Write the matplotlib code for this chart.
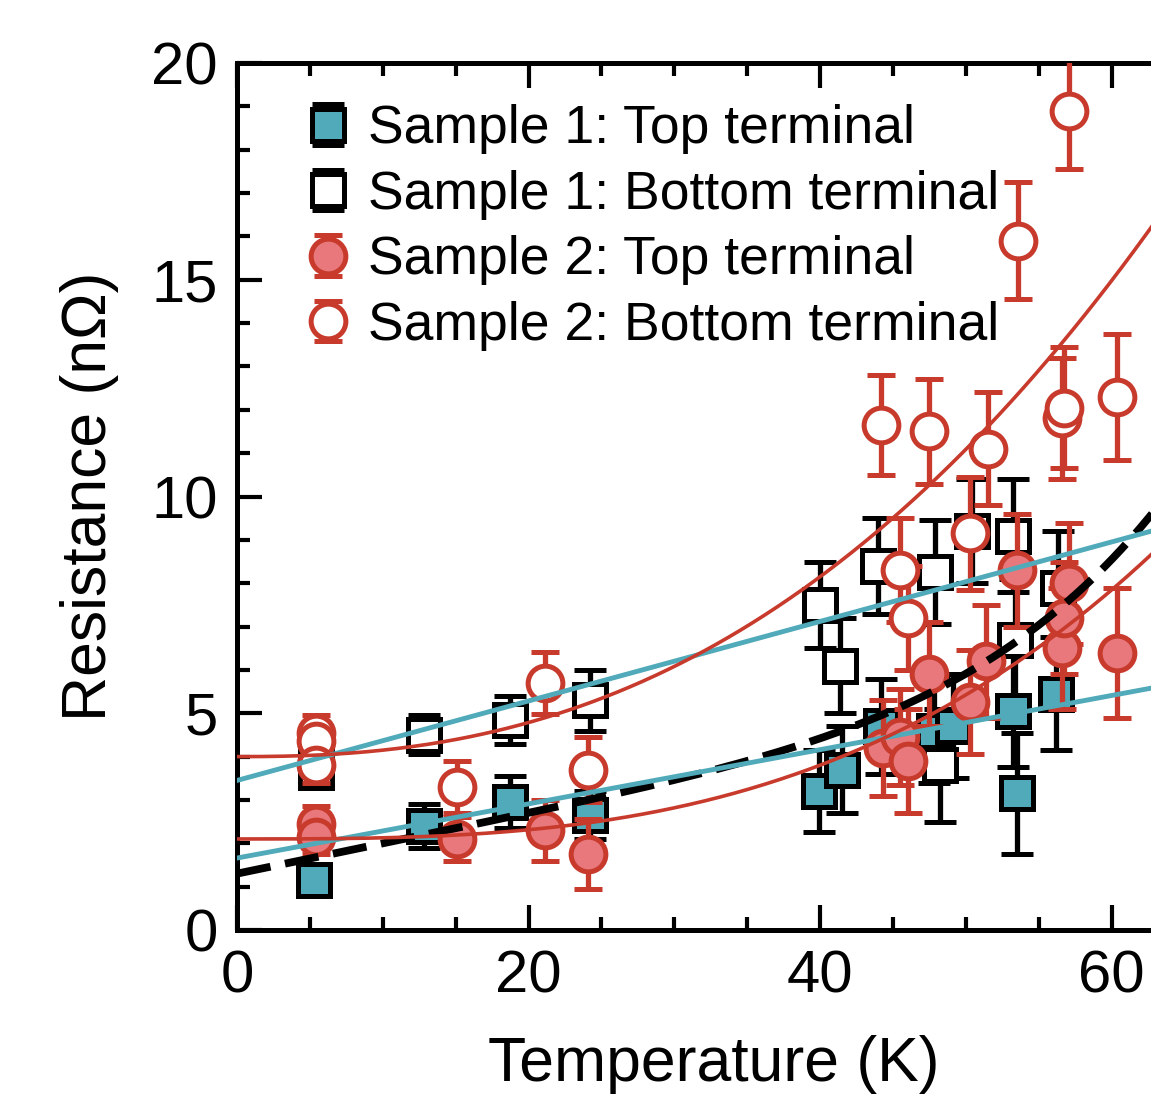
import numpy as np
import matplotlib.pyplot as plt
from matplotlib.ticker import MultipleLocator
from matplotlib.legend_handler import HandlerErrorbar

plt.rcParams["font.family"] = ["Liberation Sans", "DejaVu Sans"]

TEAL = "#50AAB9"
RED = "#C73A2C"
PINK = "#E8787C"

# Sample 1, top terminal
s1_top_T = [5.3, 12.8, 18.7, 24.2, 39.9, 41.5, 44.2, 47.8, 49.1, 53.2, 53.5, 56.2]
s1_top_R = [1.15, 2.4, 2.95, 2.65, 3.2, 3.7, 4.7, 4.6, 4.7, 5.05, 3.15, 5.45]
s1_top_err = [0.3, 0.5, 0.6, 0.55, 0.95, 1.0, 1.1, 1.2, 1.2, 1.3, 1.4, 1.3]

# Sample 1, bottom terminal
s1_bot_T = [5.4, 5.4, 12.8, 18.7, 24.2, 40.0, 41.4, 44.0, 47.9, 48.2, 50.4, 53.2, 53.4, 56.3]
s1_bot_R = [4.0, 3.65, 4.5, 4.85, 5.3, 7.5, 6.1, 8.4, 8.25, 3.8, 9.2, 9.1, 6.7, 7.9]
s1_bot_err = [0.4, 0.3, 0.45, 0.55, 0.7, 1.0, 1.1, 1.1, 1.2, 1.3, 1.2, 1.3, 1.4, 1.3]

# Sample 2, top terminal
s2_top_T = [5.4, 5.4, 15.1, 21.1, 24.1, 44.3, 45.5, 46.0, 47.5, 50.3, 51.4, 53.5, 56.6, 56.7, 57.1, 60.4]
s2_top_R = [2.45, 2.15, 2.1, 2.3, 1.75, 4.2, 4.45, 3.9, 5.9, 5.25, 6.2, 8.3, 6.5, 7.2, 8.0, 6.4]
s2_top_err = [0.4, 0.4, 0.5, 0.7, 0.8, 1.1, 1.1, 1.2, 1.2, 1.2, 1.3, 1.3, 1.4, 1.3, 1.4, 1.5]

# Sample 2, bottom terminal
s2_bot_T = [5.4, 5.4, 5.4, 15.1, 21.1, 24.1, 44.2, 45.5, 46.0, 47.5, 50.3, 51.5, 53.6, 56.6, 56.7, 57.1, 60.4]
s2_bot_R = [4.55, 4.35, 3.8, 3.3, 5.7, 3.7, 11.65, 8.3, 7.2, 11.5, 9.15, 11.1, 15.9, 11.8, 12.05, 18.9, 12.3]
s2_bot_err = [0.4, 0.4, 0.4, 0.6, 0.72, 0.75, 1.15, 1.2, 1.2, 1.2, 1.3, 1.3, 1.35, 1.4, 1.4, 1.35, 1.45]

# fit curves: R = a + b*T + c*T**n
teal_upper_fit = (3.45, 0.0917, 0.0, 1.0)
teal_lower_fit = (1.66, 0.0625, 0.0, 1.0)
red_upper_fit = (4.0, 0.0, 5.93e-4, 2.4)
red_lower_fit = (2.1, 0.0, 2.66e-5, 3.0)
dashed_fit = (1.3, 0.0698, 5.08e-10, 5.5)

fig = plt.figure(figsize=(11.51, 10.94), dpi=100)
ax = fig.add_axes([0.2059, 0.1499, 0.7941, 0.7925])

eb_common = dict(linestyle="none", elinewidth=3.8, capthick=3.8, markeredgewidth=3.6)

h1 = ax.errorbar(s1_bot_T, s1_bot_R, yerr=s1_bot_err, fmt="s", ms=23, mfc="white",
                 mec="black", ecolor="black", capsize=11.5, zorder=2, **eb_common)
h2 = ax.errorbar(s1_top_T, s1_top_R, yerr=s1_top_err, fmt="s", ms=23, mfc=TEAL,
                 mec="black", ecolor="black", capsize=11.5, zorder=2, **eb_common)
h3 = ax.errorbar(s2_bot_T, s2_bot_R, yerr=s2_bot_err, fmt="o", ms=25, mfc="white",
                 mec=RED, ecolor=RED, capsize=10, zorder=3, **eb_common)
h4 = ax.errorbar(s2_top_T, s2_top_R, yerr=s2_top_err, fmt="o", ms=25, mfc=PINK,
                 mec=RED, ecolor=RED, capsize=10, zorder=3, **eb_common)

T = np.linspace(0, 63, 300)


def model(p):
    a, b, c, n = p
    return a + b * T + c * T ** n


ax.plot(T, model(dashed_fit), color="black", lw=5.6, dashes=(4.4, 1.9), zorder=4)
ax.plot(T, model(teal_upper_fit), color=TEAL, lw=3.5, zorder=5)
ax.plot(T, model(teal_lower_fit), color=TEAL, lw=3.5, zorder=5)
ax.plot(T, model(red_upper_fit), color=RED, lw=2.6, zorder=5)
ax.plot(T, model(red_lower_fit), color=RED, lw=2.6, zorder=5)

ax.set_xlim(0, 62.7)
ax.set_ylim(0, 20)

ax.xaxis.set_major_locator(MultipleLocator(20))
ax.xaxis.set_minor_locator(MultipleLocator(5))
ax.yaxis.set_major_locator(MultipleLocator(5))
ax.yaxis.set_minor_locator(MultipleLocator(1))

for side in ["left", "bottom", "top"]:
    ax.spines[side].set_linewidth(3.6)
ax.spines["right"].set_visible(False)

ax.tick_params(which="both", direction="in", top=True, right=False, width=3.0,
               labelsize=43, pad=14)
ax.tick_params(which="major", length=18)
ax.tick_params(which="minor", length=9.5)

ax.set_xlabel("Temperature (K)", fontsize=45, labelpad=22, x=0.522)
ax.set_ylabel("Resistance (n\u03a9)", fontsize=45, labelpad=23)

ax.legend([h2, h1, h4, h3],
          ["Sample 1: Top terminal", "Sample 1: Bottom terminal",
           "Sample 2: Top terminal", "Sample 2: Bottom terminal"],
          loc="upper left", bbox_to_anchor=(0.05, 0.977), frameon=False,
          fontsize=38.5, handlelength=0.9, handletextpad=0.3,
          labelspacing=0.29, borderaxespad=0.0,
          handler_map={type(h1): HandlerErrorbar(xerr_size=0.38)})

fig.savefig("out.png", dpi=100)
